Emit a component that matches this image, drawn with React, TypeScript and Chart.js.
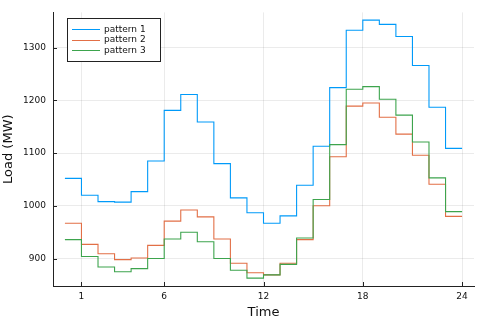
import React, { useEffect, useRef } from "react";
import { Chart, registerables } from "chart.js";

Chart.register(...registerables);

const hours = [0, 1, 2, 3, 4, 5, 6, 7, 8, 9, 10, 11, 12, 13, 14, 15, 16, 17, 18, 19, 20, 21, 22, 23, 24];
const pattern1 = [1052, 1020, 1008, 1007, 1027, 1085, 1181, 1211, 1159, 1080, 1015, 987, 967, 981, 1039, 1113, 1224, 1333, 1352, 1344, 1321, 1266, 1187, 1109];
const pattern2 = [967, 927, 909, 898, 901, 925, 971, 992, 979, 937, 891, 873, 869, 891, 936, 1000, 1093, 1189, 1195, 1168, 1136, 1096, 1041, 980];
const pattern3 = [936, 904, 884, 875, 881, 900, 937, 950, 932, 900, 878, 863, 869, 889, 939, 1012, 1116, 1221, 1226, 1202, 1172, 1121, 1053, 989];
const seriesNames = ["pattern 1", "pattern 2", "pattern 3"];
const seriesColors = ["#009AF9", "#E26F46", "#3DA44D"];
const xTicks = [1, 6, 12, 18, 24];
const yTicks = [900, 1000, 1100, 1200, 1300];

const FONT = "DejaVu Sans";

function toPoints(vals: number[]) {
  const pts = vals.map((v, i) => ({ x: hours[i], y: v }));
  pts.push({ x: hours[vals.length], y: vals[vals.length - 1] });
  return pts;
}

const axesPlugin = {
  id: "plotsAxes",
  afterDraw(chart: any) {
    const { ctx, chartArea } = chart;
    const xs = chart.scales.x;
    const ys = chart.scales.y;
    ctx.save();
    ctx.strokeStyle = "#222";
    ctx.lineWidth = 1;
    ctx.beginPath();
    yTicks.forEach((t) => {
      const y = Math.round(ys.getPixelForValue(t)) + 0.5;
      ctx.moveTo(chartArea.left, y);
      ctx.lineTo(chartArea.left + 4, y);
    });
    xTicks.forEach((t) => {
      const x = Math.round(xs.getPixelForValue(t)) + 0.5;
      ctx.moveTo(x, chartArea.bottom);
      ctx.lineTo(x, chartArea.bottom - 4);
    });
    ctx.stroke();

    // legend
    const bx = 67.5, by = 18.5, bw = 93, bh = 43;
    ctx.fillStyle = "#fff";
    ctx.fillRect(bx, by, bw, bh);
    ctx.strokeStyle = "#222";
    ctx.strokeRect(bx, by, bw, bh);
    ctx.font = `9px "${FONT}"`;
    ctx.textBaseline = "middle";
    ctx.textAlign = "left";
    seriesNames.forEach((name, i) => {
      const y = 29 + i * 10.5;
      ctx.strokeStyle = seriesColors[i];
      ctx.beginPath();
      ctx.moveTo(72, Math.round(y) + 0.5);
      ctx.lineTo(100, Math.round(y) + 0.5);
      ctx.stroke();
      ctx.fillStyle = "#111";
      ctx.fillText(name, 104, y + 0.5);
    });
    ctx.restore();
  },
};

export default function App() {
  const ref = useRef<HTMLCanvasElement>(null);
  useEffect(() => {
    document.body.style.margin = "0";
    const chart = new Chart(ref.current!, {
      type: "line",
      data: {
        datasets: [pattern1, pattern2, pattern3].map((vals, i) => ({
          label: seriesNames[i],
          data: toPoints(vals),
          borderColor: seriesColors[i],
          backgroundColor: seriesColors[i],
          borderWidth: 1.1,
          pointRadius: 0,
          stepped: "before",
          fill: false,
          order: 3 - i,
        })),
      },
      options: {
        animation: false,
        responsive: false,
        layout: { padding: { top: 10, right: 11, left: 0, bottom: 0 } },
        plugins: { legend: { display: false }, tooltip: { enabled: false } },
        scales: {
          x: {
            type: "linear",
            min: -0.72,
            max: 24.72,
            afterBuildTicks: (s: any) => {
              s.ticks = xTicks.map((v) => ({ value: v }));
            },
            afterFit: (s: any) => {
              s.height = 37;
            },
            ticks: { font: { family: FONT, size: 9 }, color: "#111", padding: 5, maxRotation: 0, callback: (v: any) => String(v) },
            grid: { color: "rgba(0,0,0,0.08)", drawTicks: false },
            border: { display: true, color: "#222" },
            title: { display: true, text: "Time", font: { family: FONT, size: 13 }, color: "#111", padding: { top: 0, bottom: 3 } },
          },
          y: {
            type: "linear",
            min: 848,
            max: 1366.7,
            afterBuildTicks: (s: any) => {
              s.ticks = yTicks.map((v) => ({ value: v }));
            },
            afterFit: (s: any) => {
              s.width = 53;
            },
            ticks: { font: { family: FONT, size: 9 }, color: "#111", padding: 7, callback: (v: any) => String(v) },
            grid: { color: "rgba(0,0,0,0.08)", drawTicks: false },
            border: { display: true, color: "#222" },
            title: { display: true, text: "Load (MW)", font: { family: FONT, size: 13 }, color: "#111", padding: { top: 1, bottom: 0 } },
          },
        },
      },
      plugins: [axesPlugin],
    });
    return () => chart.destroy();
  }, []);
  return <canvas ref={ref} width={485} height={323} style={{ display: "block" }} />;
}
